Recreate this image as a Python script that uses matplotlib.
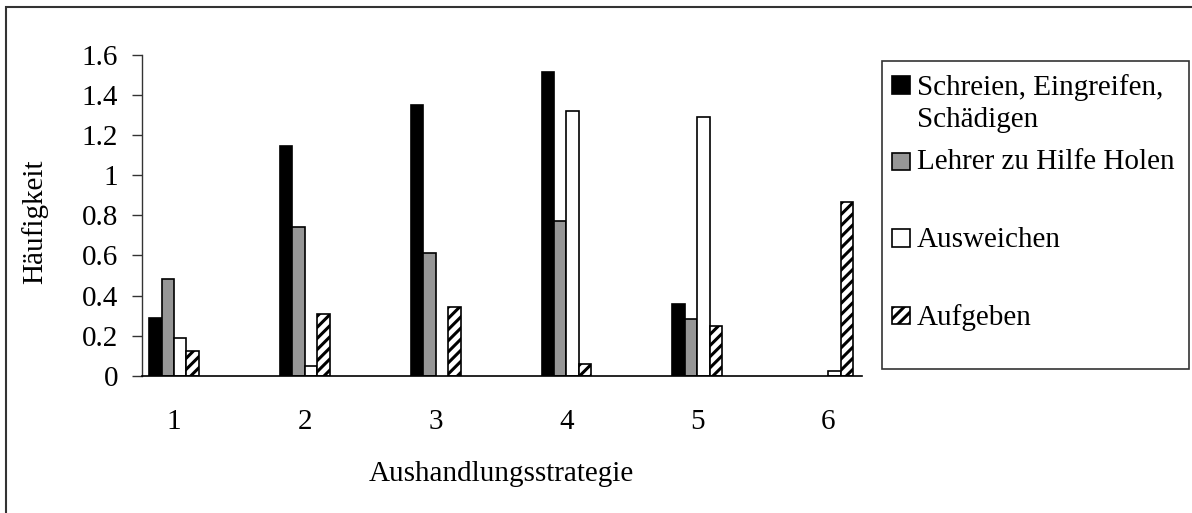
import numpy as np
import matplotlib
matplotlib.use("Agg")
import matplotlib.pyplot as plt
from matplotlib.patches import Rectangle

# Häufigkeit je Aushandlungsstrategie
strategien = ["1", "2", "3", "4", "5", "6"]
schreien = [0.29, 1.145, 1.35, 1.515, 0.36, 0.0]
lehrer = [0.48, 0.74, 0.61, 0.77, 0.285, 0.0]
ausweichen = [0.19, 0.05, 0.0, 1.32, 1.29, 0.025]
aufgeben = [0.125, 0.31, 0.345, 0.06, 0.25, 0.865]
yticks = [0, 0.2, 0.4, 0.6, 0.8, 1, 1.2, 1.4, 1.6]

serien = [
    ("Schreien, Eingreifen,\nSchädigen", schreien, dict(facecolor="black", hatch=None)),
    ("Lehrer zu Hilfe Holen", lehrer, dict(facecolor="#969696", hatch=None)),
    ("Ausweichen", ausweichen, dict(facecolor="white", hatch=None)),
    ("Aufgeben", aufgeben, dict(facecolor="white", hatch="///")),
]

plt.rcParams["font.family"] = ["Liberation Serif", "DejaVu Serif"]
plt.rcParams["hatch.linewidth"] = 2.2
plt.rcParams["hatch.color"] = "black"

W, H = 1192, 513
fig = plt.figure(figsize=(W / 100, H / 100), dpi=100)

def fx(px):
    return px / W

def fy(py):
    return 1 - py / H

ax = fig.add_axes([fx(141.7), fy(375.7), fx(861.5) - fx(141.7), fy(55) - fy(375.7)])

x = np.arange(1, len(strategien) + 1)
w = 0.095
for i, (name, vals, st) in enumerate(serien):
    vals = np.asarray(vals)
    lw = np.where(vals > 0, 1.2, 0.0)
    ax.bar(x + (i - 1.5) * w, vals, width=w, facecolor=st["facecolor"],
           hatch=st["hatch"], edgecolor="black", linewidth=lw, zorder=3)

ax.set_xlim(0.753, 6.255)
ax.set_ylim(0, 1.6)
ax.set_yticks(yticks)
ax.set_yticklabels(["0", "0.2", "0.4", "0.6", "0.8", "1", "1.2", "1.4", "1.6"])
ax.set_xticks(x)
ax.set_xticklabels(strategien)
ax.tick_params(axis="x", length=0, pad=24, labelsize=21)
ax.tick_params(axis="y", length=7, width=1, pad=10, labelsize=21, color="#333333")
for s in ("top", "right"):
    ax.spines[s].set_visible(False)
ax.spines["left"].set_color("#333333")
ax.spines["bottom"].set_color("black")
ax.spines["left"].set_linewidth(1)
ax.spines["bottom"].set_linewidth(1.2)
ax.spines["bottom"].set_zorder(4)

fig.text(fx(501), fy(481), "Aushandlungsstrategie", fontsize=21,
         ha="center", va="baseline")
fig.text(fx(35), fy(222), "Häufigkeit", fontsize=21, rotation=90,
         ha="center", va="center")

# Legende
fig.patches.append(Rectangle((fx(882.3), fy(369.3)), fx(1189) - fx(882.3),
                             fy(60.7) - fy(369.3), transform=fig.transFigure,
                             facecolor="white", edgecolor="#333333", linewidth=1.2))
eintraege = [(95, 85), (169, 161), (247, 238), (325, 315)]
for (name, vals, st), (base, mitte) in zip(serien, eintraege):
    fig.patches.append(Rectangle((fx(892), fy(mitte + 8.5)), fx(18), fy(0) - fy(17),
                                 transform=fig.transFigure, facecolor=st["facecolor"],
                                 hatch=st["hatch"], edgecolor="black", linewidth=1.2))
    zeilen = name.split("\n")
    for k, z in enumerate(zeilen):
        fig.text(fx(917), fy(base + k * 31.7), z, fontsize=21, va="baseline", ha="left")

# Rahmen um die Grafik
fig.patches.append(Rectangle((fx(6), fy(H + 10)), 2, fy(7) - fy(H + 10),
                             transform=fig.transFigure, facecolor="none",
                             edgecolor="#333333", linewidth=1.5))

fig.savefig("out.png", dpi=100)
